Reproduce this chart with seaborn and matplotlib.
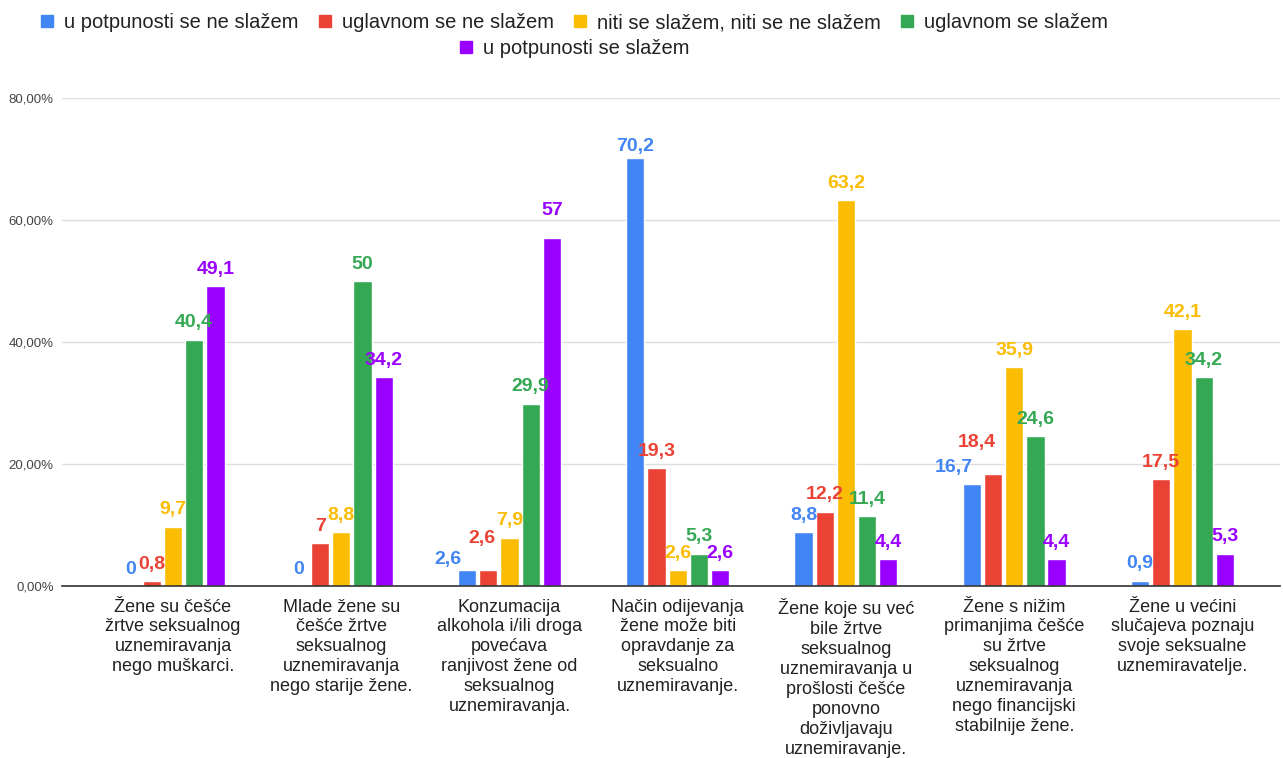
import matplotlib.pyplot as plt
import seaborn as sns
import pandas as pd
from matplotlib.lines import Line2D

izjave = [
    "Žene su češće\nžrtve seksualnog\nuznemiravanja\nnego muškarci.",
    "Mlade žene su\nčešće žrtve\nseksualnog\nuznemiravanja\nnego starije žene.",
    "Konzumacija\nalkohola i/ili droga\npovećava\nranjivost žene od\nseksualnog\nuznemiravanja.",
    "Način odijevanja\nžene može biti\nopravdanje za\nseksualno\nuznemiravanje.",
    "Žene koje su već\nbile žrtve\nseksualnog\nuznemiravanja u\nprošlosti češće\nponovno\ndoživljavaju\nuznemiravanje.",
    "Žene s nižim\nprimanjima češće\nsu žrtve\nseksualnog\nuznemiravanja\nnego financijski\nstabilnije žene.",
    "Žene u većini\nslučajeva poznaju\nsvoje seksualne\nuznemiravatelje.",
]

odgovori = [
    "u potpunosti se ne slažem",
    "uglavnom se ne slažem",
    "niti se slažem, niti se ne slažem",
    "uglavnom se slažem",
    "u potpunosti se slažem",
]

potpuno_ne = [0, 0, 2.6, 70.2, 8.8, 16.7, 0.9]
uglavnom_ne = [0.8, 7, 2.6, 19.3, 12.2, 18.4, 17.5]
niti_niti = [9.7, 8.8, 7.9, 2.6, 63.2, 35.9, 42.1]
uglavnom_da = [40.4, 50, 29.9, 5.3, 11.4, 24.6, 34.2]
potpuno_da = [49.1, 34.2, 57, 2.6, 4.4, 4.4, 5.3]

boje = ["#4285F4", "#EA4335", "#FBBC04", "#34A853", "#9900FF"]
y_ticks = [0, 20, 40, 60, 80]

# pomaci natpisa (u pikselima) da se ne preklapaju, kao u izvorniku
pomaci = {(0, 2): (-19, -6), (1, 2): (-6, 15),
          (0, 5): (-18, 0), (1, 5): (-16, 14),
          (0, 3): (0, -6), (4, 2): (0, 11)}

serije = [potpuno_ne, uglavnom_ne, niti_niti, uglavnom_da, potpuno_da]
rows = []
for odg, vals in zip(odgovori, serije):
    for izj, v in zip(izjave, vals):
        rows.append({"izjava": izj, "odgovor": odg, "postotak": v})
df = pd.DataFrame(rows)

sns.set_theme(style="white")
plt.rcParams["font.family"] = ["Liberation Sans", "DejaVu Sans"]

fig = plt.figure(figsize=(12.83, 7.58), dpi=100)
ax = fig.add_axes([62 / 1283, 172 / 758, 1218 / 1283, 488 / 758])

sns.barplot(data=df, x="izjava", y="postotak", hue="odgovor",
            order=izjave, hue_order=odgovori, palette=boje, saturation=1,
            width=0.63, gap=0.14, legend=False, ax=ax)

for si, (cont, boja) in enumerate(zip(ax.containers, boje)):
    labels = [f"{v:g}".replace(".", ",") for v in cont.datavalues]
    anns = ax.bar_label(cont, labels=labels, padding=6, color=boja,
                        fontsize=14, fontweight="bold")
    for ci, ann in enumerate(anns):
        if (si, ci) in pomaci:
            dx, dy = pomaci[(si, ci)]
            ann.xyann = (dx * 0.72, 6 + dy * 0.72)

ax.set_xlim(-0.66, 6.58)
ax.set_ylim(0, 80)
ax.set_yticks(y_ticks)
ax.set_yticklabels([f"{t},00%" for t in y_ticks], fontsize=9.5, color="#444444")
ax.grid(axis="y", color="#dddddd", linewidth=1)
ax.set_axisbelow(True)
ax.tick_params(axis="x", labelsize=13, labelcolor="#222222", pad=9, length=0)
ax.tick_params(axis="y", length=0, pad=6)
ax.set_xlabel("")
ax.set_ylabel("")
for s in ["top", "right", "left"]:
    ax.spines[s].set_visible(False)
ax.spines["bottom"].set_color("#333333")
ax.spines["bottom"].set_linewidth(1.2)
for lbl in ax.get_xticklabels():
    lbl.set_multialignment("center")
    lbl.set_verticalalignment("top")
    lbl.set_linespacing(1.22)

handles = [Line2D([], [], marker="s", linestyle="", color=b, markersize=9)
           for b in boje]
leg1 = fig.legend(handles[:4], odgovori[:4], loc="center", ncol=4,
                  bbox_to_anchor=(573 / 1283, 1 - 23 / 758), frameon=False,
                  fontsize=14.5, handletextpad=0.4, columnspacing=0.85,
                  handlelength=0.9)
for t in leg1.get_texts():
    t.set_color("#222222")
leg2 = fig.legend(handles[4:], odgovori[4:], loc="center", ncol=1,
                  bbox_to_anchor=(573 / 1283, 1 - 49 / 758), frameon=False,
                  fontsize=14.5, handletextpad=0.4, handlelength=0.9)
for t in leg2.get_texts():
    t.set_color("#222222")

fig.savefig("out.png", dpi=100, facecolor="white")
